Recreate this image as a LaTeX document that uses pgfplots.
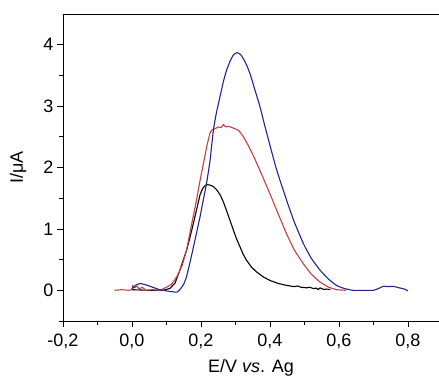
\documentclass[border=0pt]{standalone}
\usepackage{fontspec}
\setmainfont{Liberation Sans}
\usepackage{pgfplots}
\pgfplotsset{compat=1.18}
\definecolor{cblue}{RGB}{35,35,140}
\definecolor{cred}{RGB}{195,65,65}
\begin{document}
\begin{tikzpicture}
\useasboundingbox (-63pt,-55pt) rectangle (376pt,321pt);
\begin{axis}[
  scale only axis, width=376pt, height=307pt,
  xmin=-0.2, xmax=0.89, ymin=-0.5, ymax=4.5,
  axis x line=box, axis y line=left,
  axis line style={-, line width=0.9pt},
  xtick={-0.2,0,0.2,0.4,0.6,0.8},
  xticklabels={{-0,2},{0,0},{0,2},{0,4},{0,6},{0,8}},
  minor xtick={-0.1,0.1,0.3,0.5,0.7},
  ytick={0,1,2,3,4}, yticklabels={0,1,2,3,4},
  minor ytick={-0.5,0.5,1.5,2.5,3.5},
  tick align=outside, xtick pos=bottom, ytick pos=left,
  major tick length=6pt, minor tick length=3.5pt,
  tick style={line width=0.8pt, black},
  tick label style={font=\fontsize{18}{20}\selectfont},
  xticklabel style={yshift=-3pt},
  xlabel={E/V \textit{vs}. Ag}, ylabel={I/μA},
  label style={font=\fontsize{18}{20}\selectfont},
  xlabel style={at={(axis description cs:0.5,0)}, anchor=center, yshift=-47pt},
  ylabel style={at={(axis description cs:0,0.5)}, anchor=center, rotate=0, yshift=45pt},
  every axis plot/.append style={line width=1.1pt, line join=round},
  clip=false,
]
\addplot[black] coordinates {(0.00,0.01)(0.05,0.0)(0.09,0.0)(0.11,0.03)(0.125,0.12)(0.139,0.33)(0.148,0.48)(0.158,0.65)(0.168,0.86)(0.178,1.09)(0.188,1.33)(0.197,1.55)(0.205,1.66)(0.213,1.71)(0.22,1.72)(0.228,1.71)(0.236,1.69)(0.245,1.64)(0.255,1.56)(0.265,1.44)(0.274,1.30)(0.284,1.14)(0.294,0.98)(0.303,0.84)(0.313,0.71)(0.322,0.59)(0.332,0.49)(0.346,0.38)(0.361,0.30)(0.38,0.22)(0.4,0.16)(0.425,0.11)(0.448,0.08)(0.47,0.06)(0.48,0.07)(0.49,0.05)(0.506,0.04)(0.515,0.05)(0.525,0.03)(0.535,0.035)(0.54,0.01)(0.545,0.04)(0.555,0.015)(0.565,0.02)(0.575,0.01)};
\addplot[cred] coordinates {(-0.05,0.0)(-0.03,0.01)(-0.01,0.0)(0.0,0.01)(0.002,0.08)(0.008,0.04)(0.015,0.07)(0.02,0.02)(0.03,0.05)(0.04,0.0)(0.06,0.01)(0.08,0.0)(0.1,0.05)(0.115,0.1)(0.13,0.22)(0.145,0.4)(0.158,0.65)(0.172,1.05)(0.187,1.47)(0.197,1.78)(0.207,2.06)(0.217,2.35)(0.226,2.56)(0.231,2.61)(0.24,2.63)(0.25,2.66)(0.258,2.65)(0.265,2.70)(0.272,2.66)(0.28,2.67)(0.29,2.65)(0.299,2.63)(0.31,2.60)(0.323,2.50)(0.337,2.36)(0.352,2.19)(0.375,1.90)(0.4,1.57)(0.425,1.23)(0.448,0.92)(0.47,0.66)(0.497,0.43)(0.52,0.26)(0.545,0.135)(0.57,0.05)(0.593,0.01)(0.62,0.0)};
\addplot[cblue, smooth, tension=0.3] coordinates {(0.0,0.02)(0.01,0.08)(0.023,0.11)(0.04,0.09)(0.06,0.05)(0.08,0.01)(0.1,-0.01)(0.13,-0.03)(0.14,0.02)(0.15,0.1)(0.158,0.22)(0.17,0.5)(0.185,0.88)(0.197,1.19)(0.207,1.48)(0.216,1.74)(0.226,2.1)(0.236,2.61)(0.245,2.9)(0.255,3.15)(0.265,3.40)(0.274,3.58)(0.285,3.74)(0.295,3.84)(0.305,3.87)(0.315,3.84)(0.325,3.75)(0.333,3.66)(0.342,3.53)(0.356,3.27)(0.371,2.99)(0.385,2.68)(0.4,2.36)(0.42,1.95)(0.448,1.47)(0.47,1.12)(0.497,0.76)(0.52,0.52)(0.545,0.33)(0.57,0.18)(0.593,0.08)(0.615,0.03)(0.641,0.0)(0.67,0.0)(0.7,0.0)(0.715,0.03)(0.728,0.065)(0.745,0.06)(0.757,0.065)(0.775,0.04)(0.79,0.02)(0.8,-0.01)};
\end{axis}
\end{tikzpicture}
\end{document}
